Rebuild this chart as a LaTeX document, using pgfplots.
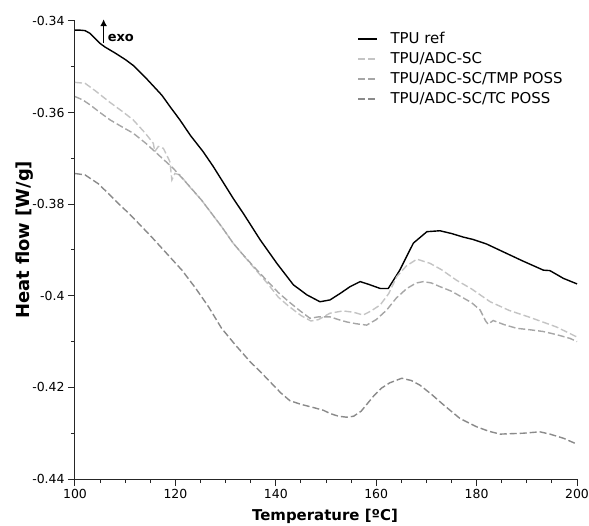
\documentclass[border=0pt]{standalone}
\usepackage{pgfplots}
\pgfplotsset{compat=1.18}
\usepackage{fontspec}
\setmainfont{DejaVu Sans}
\usetikzlibrary{arrows.meta}
\definecolor{cADC}{HTML}{C4C4C4}
\definecolor{cTMP}{HTML}{A6A6A6}
\definecolor{cTC}{HTML}{8A8A8A}
\begin{document}
\begin{tikzpicture}
\path[use as bounding box] (-75bp,-47bp) rectangle (514bp,479bp);
\begin{axis}[
  scale only axis, width=502bp, height=458bp,
  at={(0,0)}, anchor=south west,
  xmin=100, xmax=200, ymin=-0.44, ymax=-0.34,
  axis lines*=left,
  axis line style={line width=1bp, black!85},
  xtick={100,120,140,160,180,200},
  ytick={-0.44,-0.42,-0.40,-0.38,-0.36,-0.34},
  minor x tick num=3, minor y tick num=1,
  tick align=outside,
  major tick length=7bp, minor tick length=4bp,
  tick style={line width=1bp, black!85},
  scaled y ticks=false,
  yticklabel style={/pgf/number format/fixed},
  /pgf/number format/assume math mode=true,
  ticklabel style={font=\fontsize{12.5}{15}\selectfont},
  xlabel={Temperature [ºC]},
  ylabel={Heat flow [W/g]},
  xlabel style={font=\fontsize{15}{18}\selectfont\bfseries, at={(axis description cs:0.498,-0.081)}, anchor=center},
  ylabel style={font=\fontsize{18}{21}\selectfont\bfseries, at={(axis description cs:-0.1,0.522)}, anchor=center},
  legend style={draw=none, fill=none, at={(0.556,0.984)}, anchor=north west,
    font=\fontsize{15}{18}\selectfont, row sep=3bp,
    nodes={inner sep=1.5bp, text height=11bp, text depth=3bp}},
  legend cell align=left,
  legend image code/.code={\draw[#1] (0bp,0bp) -- (19bp,0bp); \path[draw=none,fill=none] (31bp,0bp) circle (0.01bp);},
  clip=false,
]
\addplot[black, line width=1.4bp] coordinates {
(100,-0.3420) (101,-0.3420) (102,-0.3421) (103,-0.3427) (104,-0.3438) (105,-0.3449)
(106,-0.3457) (108,-0.3470) (110,-0.3484) (111.6,-0.3497) (114,-0.3523) (117.3,-0.3562)
(119,-0.3588) (120.9,-0.3616) (123,-0.3650) (125.5,-0.3685) (127.5,-0.3717) (129.5,-0.3752)
(131.5,-0.3787) (133.7,-0.3823) (136.9,-0.3878) (140.2,-0.3929) (143.5,-0.3976) (146.2,-0.3998)
(148.8,-0.4013) (150.8,-0.4009) (152.8,-0.3995) (154.8,-0.3980) (156.8,-0.3969) (158.5,-0.3975)
(160.8,-0.3984) (162.4,-0.3984) (164.7,-0.3944) (167.4,-0.3885) (170.1,-0.3860) (172.7,-0.3858)
(175,-0.3864) (177.4,-0.3872) (179.3,-0.3877) (182,-0.3887) (185.3,-0.3904) (189,-0.3923)
(193.3,-0.3944) (194.6,-0.3945) (197.3,-0.3962) (200,-0.3974)
};
\addlegendentry{TPU ref}
\addplot[cADC, line width=1.4bp, dash pattern=on 7bp off 3bp] coordinates {
(100,-0.3534) (102,-0.3536) (104,-0.3552) (107,-0.3578) (109.5,-0.3598) (111.6,-0.3616)
(114,-0.3645) (115.6,-0.3667) (115.9,-0.3685) (116.6,-0.3674) (117.6,-0.3678) (118.9,-0.3707)
(119.3,-0.3747) (119.9,-0.3733) (120.9,-0.3736) (123,-0.3764) (125.2,-0.3791) (129.2,-0.3849)
(131.5,-0.3885) (133.2,-0.3907) (135.5,-0.3937) (138.5,-0.3975) (140.5,-0.4003) (142.5,-0.4022)
(145,-0.4043) (147,-0.4055) (148.5,-0.4052) (150.8,-0.4038) (153.4,-0.4033) (155.5,-0.4036)
(157.4,-0.4042) (159,-0.4033) (160.8,-0.4020) (162.5,-0.3995) (164.1,-0.3958) (166,-0.3935)
(168.1,-0.3920) (170.7,-0.3929) (173,-0.3943) (176,-0.3966) (179,-0.3985) (182.7,-0.4013)
(186.5,-0.4032) (190.6,-0.4047) (195.9,-0.4068) (200,-0.4090)
};
\addlegendentry{TPU/ADC-SC}
\addplot[cTMP, line width=1.4bp, dash pattern=on 7bp off 3bp] coordinates {
(100,-0.3565) (101.5,-0.3572) (103,-0.3583) (105,-0.3600) (107,-0.3616) (109.5,-0.3632)
(111.6,-0.3645) (114,-0.3666) (116.3,-0.3689) (119.6,-0.3722) (122.9,-0.3762) (125.2,-0.3791)
(129.2,-0.3849) (131.5,-0.3885) (133.2,-0.3907) (135.5,-0.3935) (138.5,-0.3970) (140.5,-0.3993)
(142.5,-0.4012) (144.5,-0.4030) (146.8,-0.4049) (148.5,-0.4046) (150.8,-0.4046) (152.5,-0.4052)
(154.1,-0.4057) (156,-0.4061) (158.1,-0.4064) (160,-0.4052) (162.1,-0.4031) (164,-0.4005)
(166.1,-0.3984) (168,-0.3972) (169.4,-0.3969) (171,-0.3972) (172.7,-0.3980) (175,-0.3990)
(177.4,-0.4005) (179,-0.4015) (180.7,-0.4031) (181.8,-0.4055) (182.3,-0.4062) (183.3,-0.4054)
(185.5,-0.4063) (188,-0.4071) (190.5,-0.4074) (193.3,-0.4078) (196,-0.4085) (198.6,-0.4093)
(200,-0.4100)
};
\addlegendentry{TPU/ADC-SC/TMP POSS}
\addplot[cTC, line width=1.4bp, dash pattern=on 7bp off 3bp] coordinates {
(100,-0.3733) (102,-0.3736) (104.6,-0.3755) (106.5,-0.3775) (108.6,-0.3798) (111,-0.3823)
(113.3,-0.3849) (115.3,-0.3872) (117.3,-0.3896) (119.3,-0.3920) (121.3,-0.3944) (124,-0.3983)
(126.6,-0.4024) (129.2,-0.4071) (132,-0.4108) (134.9,-0.4144) (137.3,-0.4170) (139.5,-0.4195)
(141,-0.4212) (142.8,-0.4229) (145,-0.4237) (147.5,-0.4244) (149.5,-0.4250) (150.8,-0.4257)
(152.5,-0.4263) (154.1,-0.4265) (155.5,-0.4263) (157,-0.4252) (159.4,-0.4220) (161,-0.4202)
(162.7,-0.4190) (165.1,-0.4180) (167,-0.4185) (168.7,-0.4195) (171,-0.4215) (173.4,-0.4238)
(176.7,-0.4268) (180,-0.4286) (182.5,-0.4296) (184.7,-0.4302) (187,-0.4301) (189.3,-0.4300)
(192.6,-0.4297) (194.6,-0.4302) (197.3,-0.4311) (200,-0.4324)
};
\addlegendentry{TPU/ADC-SC/TC POSS}
\draw[-{Latex[length=7bp,width=7bp]}, line width=1.5bp] (axis cs:105.7,-0.3447) -- (axis cs:105.7,-0.3396);
\node[anchor=west, font=\fontsize{13}{15}\selectfont\bfseries, inner sep=1bp] at (axis cs:106.3,-0.3437) {exo};
\end{axis}
\end{tikzpicture}
\end{document}
